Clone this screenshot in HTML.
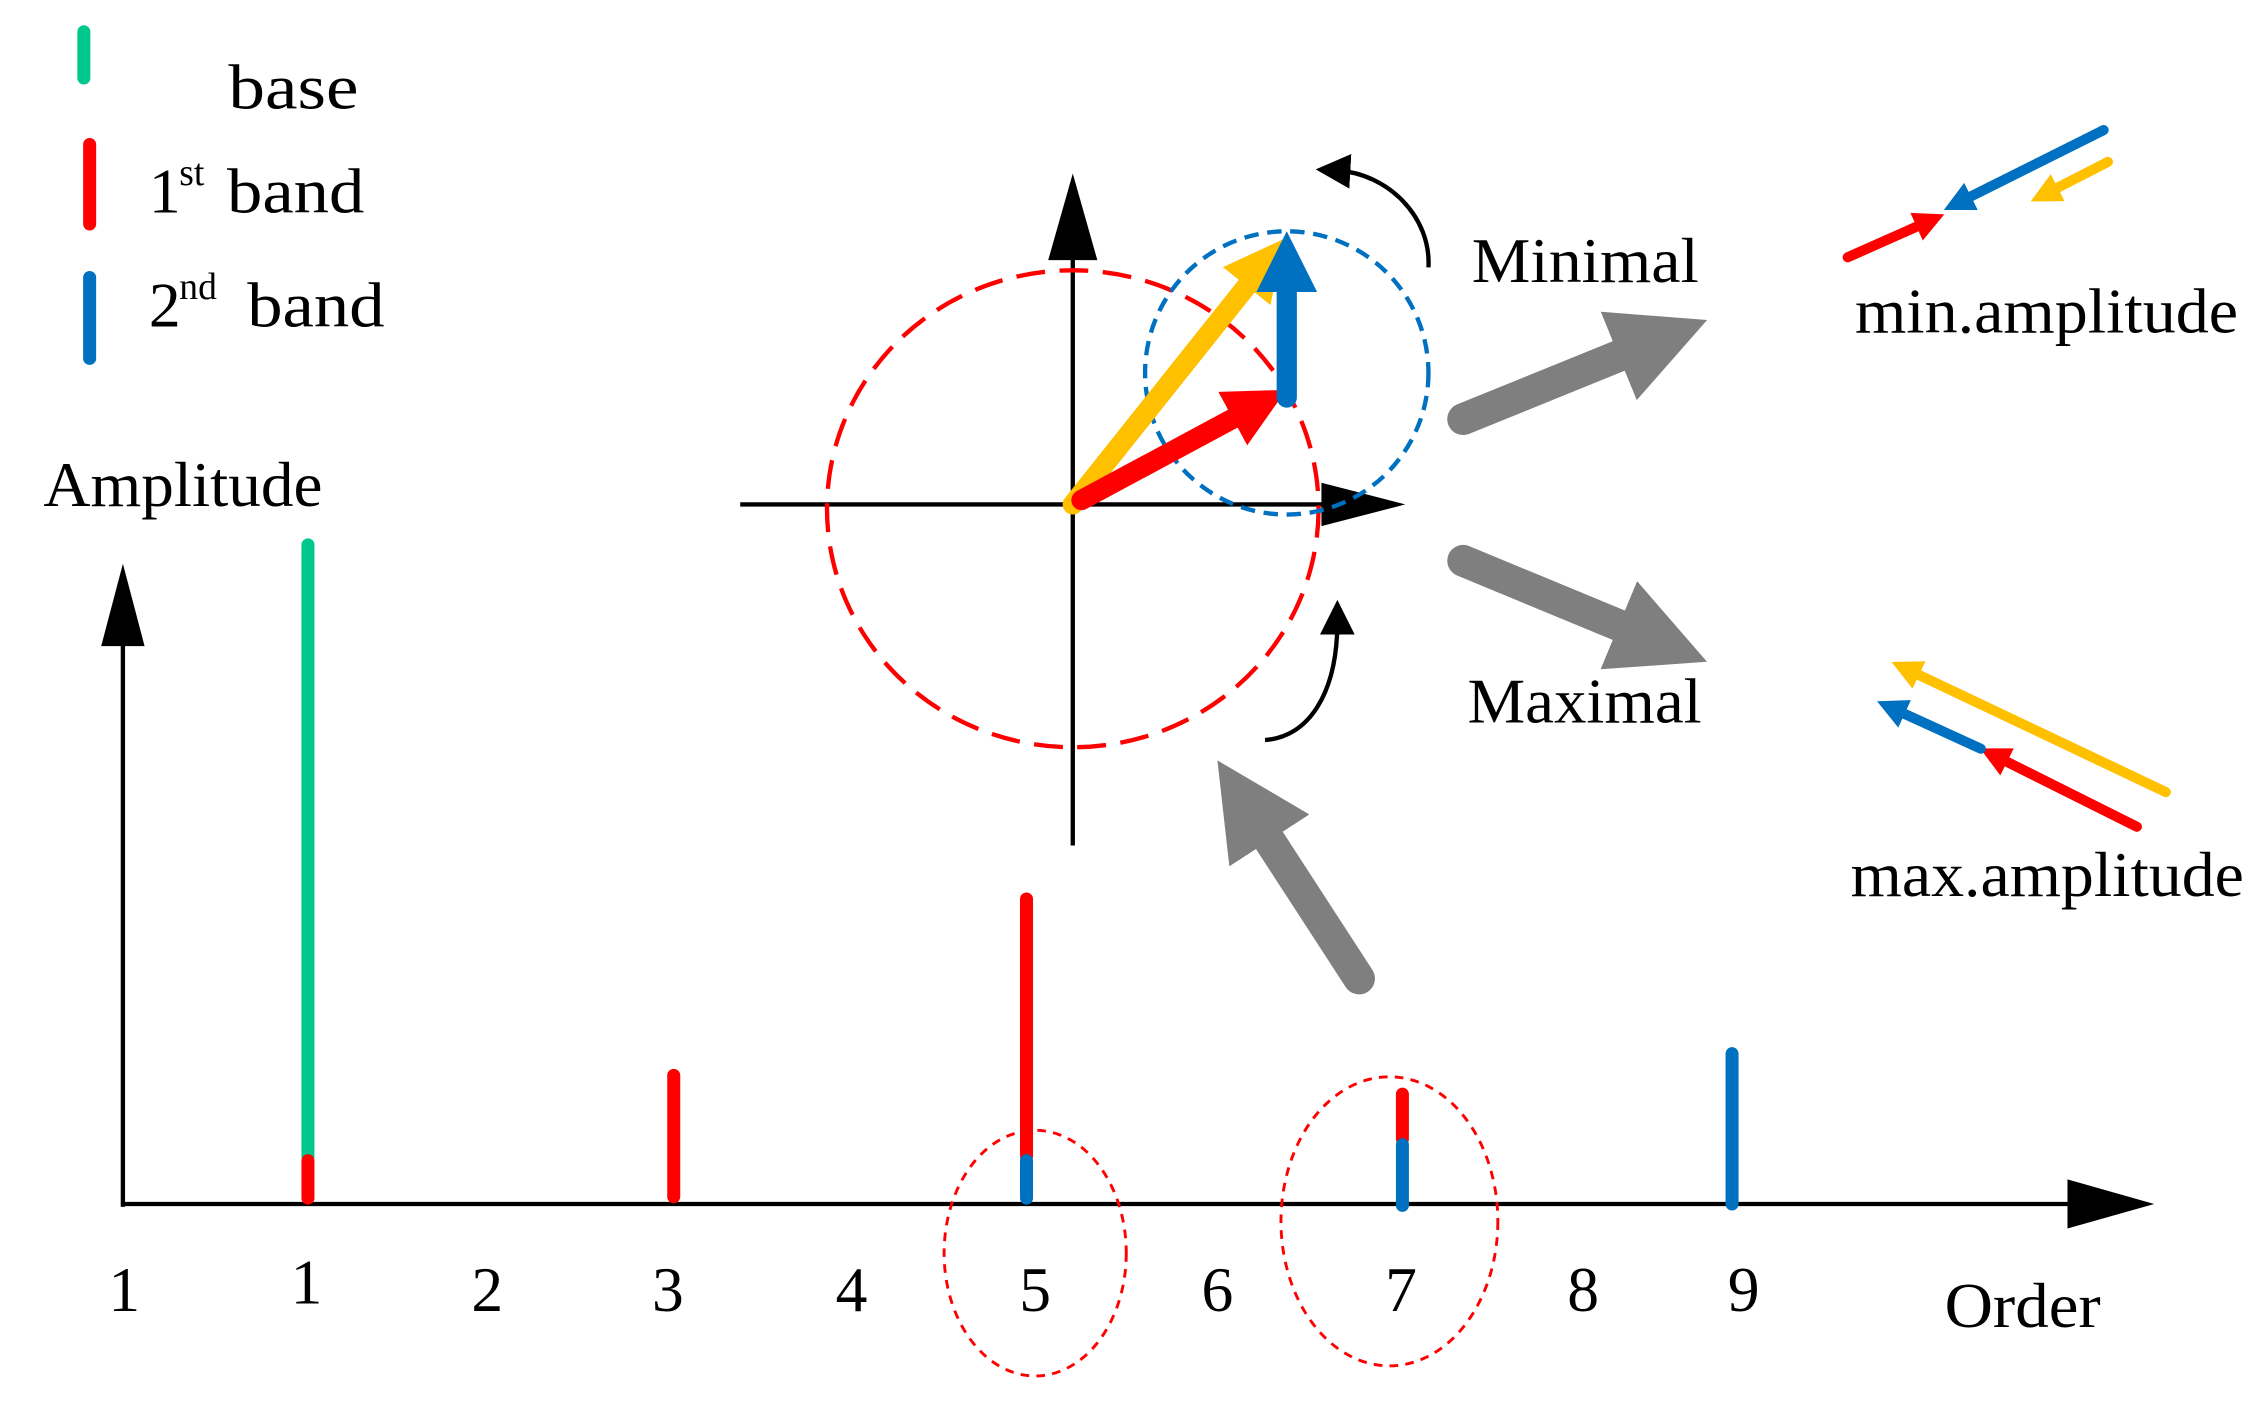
<!DOCTYPE html>
<html><head><meta charset="utf-8"><style>
html,body{margin:0;padding:0;background:#fff;}
svg{display:block;}
text{font-family:"Liberation Serif",serif;fill:#000;}
</style></head><body>
<svg width="2267" height="1402" viewBox="0 0 1568 970" preserveAspectRatio="none" xmlns="http://www.w3.org/2000/svg">
<defs>
<marker id="hk" markerWidth="8" markerHeight="8" refX="3" refY="4" orient="auto" markerUnits="strokeWidth"><path d="M0,0 L8,4 L0,8 Z" fill="#000"/></marker>
<marker id="hy" markerWidth="3" markerHeight="3" refX="1" refY="1.5" orient="auto" markerUnits="strokeWidth"><path d="M0,0 L3,1.5 L0,3 Z" fill="#FFC000"/></marker>
<marker id="hr" markerWidth="3" markerHeight="3" refX="1" refY="1.5" orient="auto" markerUnits="strokeWidth"><path d="M0,0 L3,1.5 L0,3 Z" fill="#FF0000"/></marker>
<marker id="hb" markerWidth="3" markerHeight="3" refX="1" refY="1.5" orient="auto" markerUnits="strokeWidth"><path d="M0,0 L3,1.5 L0,3 Z" fill="#0070C0"/></marker>
<marker id="hg" markerWidth="3" markerHeight="3" refX="1" refY="1.5" orient="auto" markerUnits="strokeWidth"><path d="M0,0 L3,1.5 L0,3 Z" fill="#7F7F7F"/></marker>
</defs>
<g stroke-linecap="round">
<line x1="58" y1="22" x2="58" y2="54" stroke="#00C78C" stroke-width="9"/>
<line x1="62" y1="100" x2="62" y2="155" stroke="#FF0000" stroke-width="9"/>
<line x1="62" y1="192" x2="62" y2="248" stroke="#0070C0" stroke-width="9"/>
</g>
<g font-size="44">
<text x="158" y="75" textLength="90" lengthAdjust="spacingAndGlyphs">base</text>
<text x="103" y="147">1</text><text x="124" y="128" font-size="26">st</text>
<text x="157" y="147" textLength="95" lengthAdjust="spacingAndGlyphs">band</text>
<text x="103" y="226">2</text><text x="124" y="207" font-size="26">nd</text>
<text x="171" y="226" textLength="95" lengthAdjust="spacingAndGlyphs">band</text>
<text x="30" y="350" textLength="193" lengthAdjust="spacingAndGlyphs">Amplitude</text>
</g>
<line x1="85" y1="835" x2="85" y2="445" stroke="#000" stroke-width="3"/>
<polygon points="85,390 70,447 100,447" fill="#000"/>
<line x1="85" y1="833" x2="1432" y2="833" stroke="#000" stroke-width="3"/>
<polygon points="1490,833 1430,816 1430,850" fill="#000"/>
<g font-size="44">
<text x="75" y="907">1</text><text x="201" y="902">1</text><text x="326" y="907">2</text>
<text x="451" y="907">3</text><text x="578" y="907">4</text><text x="705" y="907">5</text>
<text x="831" y="907">6</text><text x="958" y="907">7</text><text x="1084" y="907">8</text>
<text x="1195" y="907">9</text><text x="1345" y="918" textLength="108" lengthAdjust="spacingAndGlyphs">Order</text>
</g>
<g stroke-linecap="round" stroke-width="9">
<line x1="213" y1="377" x2="213" y2="800" stroke="#00C78C"/>
<line x1="213" y1="803" x2="213" y2="829" stroke="#FF0000"/>
<line x1="466" y1="744" x2="466" y2="828" stroke="#FF0000"/>
<line x1="710" y1="622" x2="710" y2="800" stroke="#FF0000"/>
<line x1="710" y1="803" x2="710" y2="829" stroke="#0070C0"/>
<line x1="970" y1="757" x2="970" y2="788" stroke="#FF0000"/>
<line x1="970" y1="792" x2="970" y2="834" stroke="#0070C0"/>
<line x1="1198" y1="729" x2="1198" y2="833" stroke="#0070C0"/>
</g>
<ellipse cx="716" cy="867" rx="63" ry="85" fill="none" stroke="#FF0000" stroke-width="2" stroke-dasharray="6,5"/>
<ellipse cx="961" cy="845" rx="75" ry="100" fill="none" stroke="#FF0000" stroke-width="2" stroke-dasharray="6,5"/>
<line x1="512" y1="349" x2="918" y2="349" stroke="#000" stroke-width="3"/>
<polygon points="972,349 914,334 914,364" fill="#000"/>
<line x1="742" y1="585" x2="742" y2="178" stroke="#000" stroke-width="3"/>
<polygon points="742,120 725,180 759,180" fill="#000"/>
<ellipse cx="742" cy="352" rx="170" ry="165" fill="none" stroke="#FF0000" stroke-width="3" stroke-dasharray="20,10"/>
<circle cx="890" cy="258" r="98" fill="none" stroke="#0070C0" stroke-width="3" stroke-dasharray="10,6"/>
<g stroke-linecap="round">
<line x1="742" y1="349" x2="871" y2="187" stroke="#FFC000" stroke-width="14" marker-end="url(#hy)"/>
<line x1="748" y1="346" x2="865" y2="283" stroke="#FF0000" stroke-width="14" marker-end="url(#hr)"/>
<line x1="890" y1="275" x2="890" y2="188" stroke="#0070C0" stroke-width="14" marker-end="url(#hb)"/>
</g>
<path d="M988,185 C990,150 960,120 925,118" fill="none" stroke="#000" stroke-width="3" marker-end="url(#hk)"/>
<path d="M875,512 C905,510 925,480 925,430" fill="none" stroke="#000" stroke-width="3" marker-end="url(#hk)"/>
<g stroke-linecap="round">
<line x1="1012" y1="290" x2="1140" y2="238" stroke="#7F7F7F" stroke-width="22" marker-end="url(#hg)"/>
<line x1="1012" y1="388" x2="1140" y2="441" stroke="#7F7F7F" stroke-width="22" marker-end="url(#hg)"/>
<line x1="940" y1="677" x2="866" y2="563" stroke="#7F7F7F" stroke-width="22" marker-end="url(#hg)"/>
</g>
<g font-size="44">
<text x="1018" y="195" textLength="157" lengthAdjust="spacingAndGlyphs">Minimal</text>
<text x="1015" y="500" textLength="162" lengthAdjust="spacingAndGlyphs">Maximal</text>
<text x="1283" y="230" textLength="265" lengthAdjust="spacingAndGlyphs">min.amplitude</text>
<text x="1280" y="620" textLength="272" lengthAdjust="spacingAndGlyphs">max.amplitude</text>
</g>
<g stroke-linecap="round" stroke-width="7">
<line x1="1278" y1="178" x2="1332" y2="154" stroke="#FF0000" marker-end="url(#hr)"/>
<line x1="1455" y1="90" x2="1357" y2="139" stroke="#0070C0" marker-end="url(#hb)"/>
<line x1="1458" y1="112" x2="1417" y2="133" stroke="#FFC000" marker-end="url(#hy)"/>
<line x1="1498" y1="548" x2="1321" y2="464" stroke="#FFC000" marker-end="url(#hy)"/>
<line x1="1478" y1="572" x2="1382" y2="524" stroke="#FF0000" marker-end="url(#hr)"/>
<line x1="1370" y1="518" x2="1311" y2="491" stroke="#0070C0" marker-end="url(#hb)"/>
</g>
</svg>
</body></html>
